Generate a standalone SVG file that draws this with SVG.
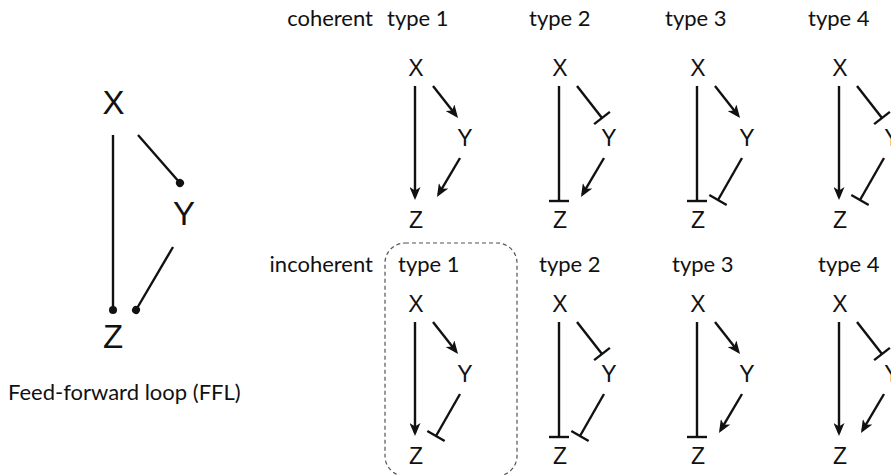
<svg xmlns="http://www.w3.org/2000/svg" width="891" height="475" viewBox="0 0 891 475">
<style>
.lbl{font-family:Lato,"Liberation Sans",sans-serif;font-size:22px;fill:#111}
.n{font-family:"Liberation Sans",Arial,sans-serif;font-size:23px;fill:#111;text-anchor:middle}
.nb{font-family:"Liberation Sans",Arial,sans-serif;font-size:33px;fill:#111;text-anchor:middle}
.e{stroke:#111;stroke-width:2.4;fill:none}
.a{marker-end:url(#arr)}
.t{marker-end:url(#tee)}
.d{marker-end:url(#dot)}
</style>
<defs>
<marker id="arr" markerUnits="userSpaceOnUse" viewBox="0 0 13 11" refX="10" refY="5.5" markerWidth="13" markerHeight="11" orient="auto"><path d="M0,0 L13,5.5 L0,11 L3.5,5.5 Z" fill="#111"/></marker>
<marker id="tee" markerUnits="userSpaceOnUse" viewBox="-2 -11 4 22" refX="0" refY="0" markerWidth="4" markerHeight="22" orient="auto"><path d="M0,-10 L0,10" stroke="#111" stroke-width="2.4"/></marker>
<marker id="dot" markerUnits="userSpaceOnUse" viewBox="-5 -5 10 10" refX="0" refY="0" markerWidth="10" markerHeight="10" orient="auto"><circle r="4" fill="#111"/></marker>
</defs>
<rect x="385" y="243" width="132" height="233" rx="20" fill="none" stroke="#555" stroke-width="1.2" stroke-dasharray="4,3"/>
<g id="labels">
<text class="lbl" x="373" y="26" text-anchor="end">coherent</text>
<text class="lbl" x="387" y="26">type 1</text>
<text class="lbl" x="529" y="26">type 2</text>
<text class="lbl" x="665" y="26">type 3</text>
<text class="lbl" x="808" y="26">type 4</text>
<text class="lbl" x="373" y="272" text-anchor="end">incoherent</text>
<text class="lbl" x="398" y="272">type 1</text>
<text class="lbl" x="539" y="272">type 2</text>
<text class="lbl" x="672" y="272">type 3</text>
<text class="lbl" x="818" y="272">type 4</text>
<text class="lbl" x="8" y="400">Feed-forward loop (FFL)</text>
</g>
<g id="ffl">
<text class="nb" x="113.5" y="114">X</text>
<text class="nb" x="184" y="225">Y</text>
<text class="nb" x="113" y="348">Z</text>
</g>
<g id="c1"><text class="n" x="416" y="76">X</text><text class="n" x="465" y="146">Y</text><text class="n" x="416" y="228">Z</text></g>
<g id="c2"><text class="n" x="560" y="76">X</text><text class="n" x="609" y="146">Y</text><text class="n" x="560" y="228">Z</text></g>
<g id="c3"><text class="n" x="698" y="76">X</text><text class="n" x="747" y="146">Y</text><text class="n" x="698" y="228">Z</text></g>
<g id="c4"><text class="n" x="840" y="76">X</text><text class="n" x="892" y="146">Y</text><text class="n" x="840" y="228">Z</text></g>
<g id="i1"><text class="n" x="416" y="312">X</text><text class="n" x="465" y="382">Y</text><text class="n" x="416" y="464">Z</text></g>
<g id="i2"><text class="n" x="560" y="312">X</text><text class="n" x="609" y="382">Y</text><text class="n" x="560" y="464">Z</text></g>
<g id="i3"><text class="n" x="698" y="312">X</text><text class="n" x="747" y="382">Y</text><text class="n" x="698" y="464">Z</text></g>
<g id="i4"><text class="n" x="840" y="312">X</text><text class="n" x="892" y="382">Y</text><text class="n" x="840" y="464">Z</text></g>
<g id="connectors">
<path class="e d" d="M113,135 L113,310"/>
<path class="e d" d="M138,135 L180,183"/>
<path class="e d" d="M173,247 L136,310"/>
<path class="e a" d="M415,86 L415,197"/>
<path class="e a" d="M433,86 L456.2,115.6"/>
<path class="e a" d="M460,158 L438.5,194.4"/>
<path class="e t" d="M559,86 L559,201"/>
<path class="e t" d="M577,86 L602,118"/>
<path class="e a" d="M604,158 L582.5,194.4"/>
<path class="e t" d="M697,86 L697,201"/>
<path class="e a" d="M715,86 L738.2,115.6"/>
<path class="e t" d="M742,158 L718,200"/>
<path class="e a" d="M839,86 L839,197"/>
<path class="e t" d="M857,86 L882,118"/>
<path class="e t" d="M884,158 L860,200"/>
<path class="e a" d="M415,322 L415,433"/>
<path class="e a" d="M433,322 L456.2,351.6"/>
<path class="e t" d="M460,394 L436,436"/>
<path class="e t" d="M559,322 L559,437"/>
<path class="e t" d="M577,322 L602,354"/>
<path class="e t" d="M604,394 L580,436"/>
<path class="e t" d="M697,322 L697,437"/>
<path class="e a" d="M715,322 L738.2,351.6"/>
<path class="e a" d="M742,394 L720.5,430.4"/>
<path class="e a" d="M839,322 L839,433"/>
<path class="e t" d="M857,322 L882,354"/>
<path class="e a" d="M884,394 L862.5,430.4"/>
</g>
</svg>
